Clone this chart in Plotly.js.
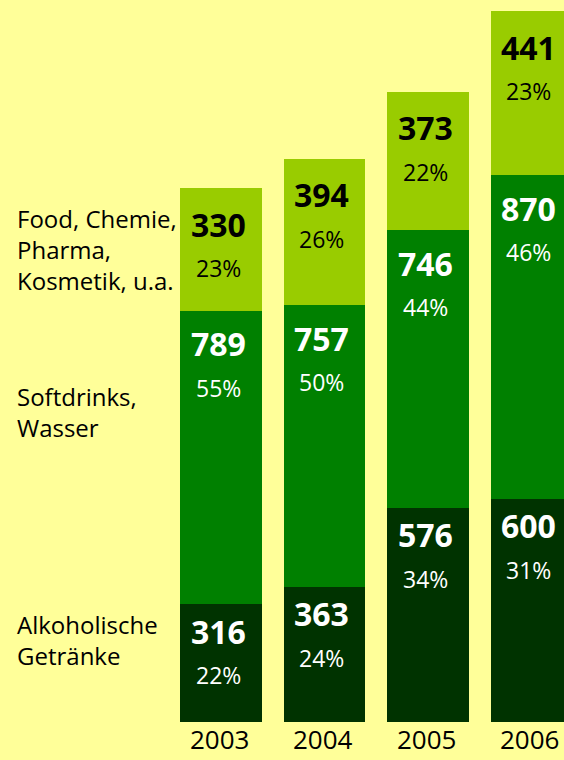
<!DOCTYPE html>
<html>
<head>
<meta charset="utf-8">
<script src="https://cdn.plot.ly/plotly-3.0.1.min.js"></script>
<style>html,body{margin:0;padding:0;background:#FFFF99;}</style>
</head>
<body>
<div id="chart" style="width:564px;height:760px;"></div>
<script>
const years = ['2003', '2004', '2005', '2006'];
const alkohol = [316, 363, 576, 600];
const softdrinks = [789, 757, 746, 870];
const food = [330, 394, 373, 441];
const alkoholPct = ['22%', '24%', '34%', '31%'];
const softdrinksPct = ['55%', '50%', '44%', '46%'];
const foodPct = ['23%', '26%', '22%', '23%'];
const seriesNames = ['Alkoholische<br>Getränke', 'Softdrinks,<br>Wasser', 'Food, Chemie,<br>Pharma,<br>Kosmetik, u.a.'];

const xs = years.map((_, i) => i);
const FONT = 'Open Sans, Noto Sans, sans-serif';
const series = [
  {vals: alkohol, pct: alkoholPct, color: '#003300', txt: '#FFFFFF', off: [-27, -71]},
  {vals: softdrinks, pct: softdrinksPct, color: '#008000', txt: '#FFFFFF', off: [-33, -77]},
  {vals: food, pct: foodPct, color: '#99CC00', txt: '#000000', off: [-36, -80]}
];

const traces = series.map((s, k) => ({
  type: 'bar', x: xs, y: s.vals, name: seriesNames[k],
  marker: {color: s.color, line: {width: 0}}, width: 0.792,
  hoverinfo: 'none'
}));

const annotations = [];
const base = xs.map(() => 0);
series.forEach(s => {
  xs.forEach(i => {
    const top = base[i] + s.vals[i];
    annotations.push({x: i, y: top, xref: 'x', yref: 'y', text: '<b>' + s.vals[i] + '</b>',
      showarrow: false, yanchor: 'middle', xanchor: 'center', yshift: s.off[0], xshift: -3,
      font: {family: FONT, size: 32, color: s.txt}});
    annotations.push({x: i, y: top, xref: 'x', yref: 'y', text: s.pct[i],
      showarrow: false, yanchor: 'middle', xanchor: 'center', yshift: s.off[1], xshift: -3,
      font: {family: FONT, size: 23, color: s.txt}});
    base[i] = top;
  });
});

const plotH = 760 - 38;
const centersPx = [640, 412, 249];
seriesNames.forEach((n, k) => {
  annotations.push({x: 15 / 564, y: (722 - centersPx[k]) / plotH, xref: 'paper', yref: 'paper', text: n,
    showarrow: false, align: 'left', xanchor: 'left', yanchor: 'middle',
    font: {family: FONT, size: 24, color: '#000000'}});
});

// year labels under the bars
xs.forEach(i => {
  annotations.push({x: i, y: -(739 - 722) / plotH, xref: 'x', yref: 'paper', text: years[i],
    showarrow: false, xanchor: 'center', yanchor: 'middle', borderpad: 0, xshift: -2,
    font: {family: FONT, size: 26, color: '#000000'}});
});

const layout = {
  width: 564, height: 760,
  margin: {l: 0, r: 0, t: 0, b: 38, pad: 0},
  paper_bgcolor: '#FFFF99', plot_bgcolor: '#FFFF99',
  barmode: 'stack', showlegend: false,
  xaxis: {range: [-221 / 103.5, -221 / 103.5 + 564 / 103.5], showticklabels: false,
    showgrid: false, zeroline: false, showline: false, ticks: '', fixedrange: true},
  yaxis: {range: [0, 1941], visible: false, showgrid: false, zeroline: false, fixedrange: true},
  annotations: annotations
};

Plotly.newPlot('chart', traces, layout, {displayModeBar: false, staticPlot: true});
</script>
</body>
</html>
